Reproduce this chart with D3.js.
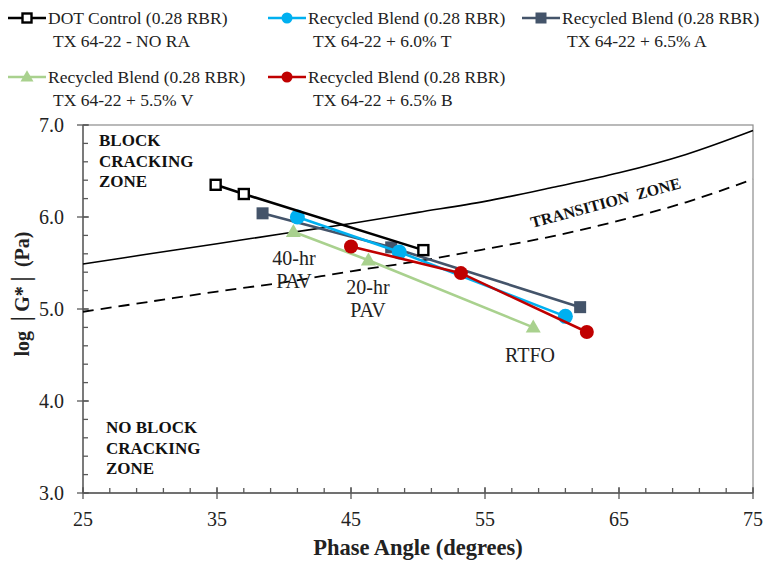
<!DOCTYPE html>
<html><head><meta charset="utf-8">
<script src="https://cdn.jsdelivr.net/npm/d3@7"></script>
<style>body{margin:0;background:#fff}svg{display:block}</style>
</head><body>
<svg id="chart" width="766" height="561"></svg>
<script>
// ---- data ----
const seriesNames = ["DOT Control (0.28 RBR)", "Recycled Blend (0.28 RBR)", "Recycled Blend (0.28 RBR)", "Recycled Blend (0.28 RBR)", "Recycled Blend (0.28 RBR)"];
const seriesSub = ["TX 64-22 - NO RA", "TX 64-22 + 6.0% T", "TX 64-22 + 6.5% A", "TX 64-22 + 5.5% V", "TX 64-22 + 6.5% B"];
const dotX = [34.9, 37.0, 50.4];   const dotY = [6.35, 6.25, 5.64];
const tX   = [41.0, 48.6, 61.0];   const tY   = [6.00, 5.62, 4.92];
const aX   = [38.4, 48.0, 62.1];   const aY   = [6.04, 5.67, 5.02];
const vX   = [40.7, 46.3, 58.6];   const vY   = [5.84, 5.53, 4.80];
const bX   = [45.0, 53.2, 62.6];   const bY   = [5.68, 5.39, 4.75];
// limit curves
const curveX      = [25, 30, 35, 40, 45, 50, 55, 60, 65, 70, 75];
const blockY      = [5.49, 5.60, 5.71, 5.82, 5.93, 6.05, 6.17, 6.32, 6.48, 6.68, 6.94];
const transitionY = [4.97, 5.08, 5.19, 5.29, 5.41, 5.52, 5.65, 5.79, 5.96, 6.16, 6.41];
const xTicks = [25, 35, 45, 55, 65, 75];
const yTicks = [3.0, 4.0, 5.0, 6.0, 7.0];

const svg = d3.select("#chart");
const L = 83, R = 753, T = 125, B = 493;
const x = d3.scaleLinear().domain([25, 75]).range([L, R]);
const y = d3.scaleLinear().domain([3, 7]).range([B, T]);
const serif = "Liberation Serif";

function txt(g, xx, yy, s, size, weight, anchor) {
  return g.append("text").attr("x", xx).attr("y", yy).text(s)
    .style("font-family", serif).style("font-size", size + "px").style("font-weight", weight || "normal")
    .attr("text-anchor", anchor || "start").attr("fill", "#222");
}

// frame
svg.append("rect").attr("x", L).attr("y", T).attr("width", R - L).attr("height", B - T)
  .attr("fill", "none").attr("stroke", "#8c8c8c").attr("stroke-width", 1.2);

// axes
const minorX = d3.range(25, 75.01, 2);
const minorY = d3.range(3, 7.01, 0.2);
const axG = svg.append("g").attr("stroke", "#595959").attr("stroke-width", 1.3);
axG.append("line").attr("x1", L).attr("x2", R).attr("y1", B).attr("y2", B);
axG.append("line").attr("x1", L).attr("x2", L).attr("y1", T).attr("y2", B);
minorX.forEach(v => axG.append("line").attr("x1", x(v)).attr("x2", x(v)).attr("y1", B).attr("y2", B - 5));
xTicks.forEach(v => axG.append("line").attr("x1", x(v)).attr("x2", x(v)).attr("y1", B - 6).attr("y2", B + 6));
minorY.forEach(v => axG.append("line").attr("x1", L).attr("x2", L + 5).attr("y1", y(v)).attr("y2", y(v)));
yTicks.forEach(v => axG.append("line").attr("x1", L - 6).attr("x2", L + 6).attr("y1", y(v)).attr("y2", y(v)));

xTicks.forEach(v => txt(svg, x(v), B + 33, String(v), 20, "normal", "middle"));
yTicks.forEach(v => txt(svg, L - 19, y(v) + 7, v.toFixed(1), 20, "normal", "end"));

txt(svg, (L + R) / 2, 555, "Phase Angle (degrees)", 22.5, "bold", "middle");
svg.append("g").attr("transform", "translate(29,294) rotate(-90)").call(g =>
  txt(g, 0, 0, "log │G*│ (Pa)", 20, "bold", "middle").attr("xml:space", "preserve"));

// limit curves
const cline = d3.line().x(d => x(d[0])).y(d => y(d[1])).curve(d3.curveCatmullRom);
svg.append("path").attr("d", cline(d3.zip(curveX, blockY))).attr("fill", "none")
  .attr("stroke", "#000").attr("stroke-width", 1.6);
svg.append("path").attr("d", cline(d3.zip(curveX, transitionY))).attr("fill", "none")
  .attr("stroke", "#000").attr("stroke-width", 1.8).attr("stroke-dasharray", "11,7");

// zone labels
["BLOCK", "CRACKING", "ZONE"].forEach((t, i) => txt(svg, 99, 146 + i * 20.5, t, 17, "bold").attr("fill", "#111"));
["NO BLOCK", "CRACKING", "ZONE"].forEach((t, i) => txt(svg, 106, 433 + i * 20.5, t, 17, "bold").attr("fill", "#111"));
svg.append("g").attr("transform", "translate(607,208) rotate(-15)").call(g =>
  txt(g, 0, 0, "TRANSITION  ZONE", 16, "bold", "middle").attr("fill", "#111").attr("xml:space", "preserve"));

[["40-hr", 294, 265], ["PAV", 294, 288], ["20-hr", 368, 294], ["PAV", 368, 317], ["RTFO", 530, 362]]
  .forEach(d => txt(svg, d[1], d[2], d[0], 20, "normal", "middle"));

// series
const series = [
  {xs: aX, ys: aY, color: "#44546A", shape: "square", fill: "#44546A", size: 12},
  {xs: tX, ys: tY, color: "#00B0F0", shape: "circle", fill: "#00B0F0", size: 15},
  {xs: vX, ys: vY, color: "#A9D18E", shape: "triangle", fill: "#A9D18E", size: 15},
  {xs: bX, ys: bY, color: "#C00000", shape: "circle", fill: "#C00000", size: 14},
  {xs: dotX, ys: dotY, color: "#000000", shape: "hsquare", fill: "#fff", size: 12}
];
const ln = d3.line().x(d => x(d[0])).y(d => y(d[1]));
function marker(g, shape, cx, cy, color, fill, s) {
  if (shape === "circle") g.append("circle").attr("cx", cx).attr("cy", cy).attr("r", s / 2).attr("fill", fill);
  else if (shape === "square") g.append("rect").attr("x", cx - s / 2).attr("y", cy - s / 2).attr("width", s).attr("height", s).attr("fill", fill);
  else if (shape === "hsquare") g.append("rect").attr("x", cx - s / 2 + 1).attr("y", cy - s / 2 + 1).attr("width", s - 2).attr("height", s - 2).attr("fill", fill).attr("stroke", color).attr("stroke-width", 2.4);
  else if (shape === "triangle") {
    const h = s * 0.87;
    g.append("path").attr("d", `M${cx},${cy - h * 0.6}L${cx + s / 2},${cy + h * 0.4}L${cx - s / 2},${cy + h * 0.4}Z`).attr("fill", fill);
  }
}
series.forEach(sr => {
  const g = svg.append("g");
  g.append("path").attr("d", ln(d3.zip(sr.xs, sr.ys))).attr("fill", "none").attr("stroke", sr.color).attr("stroke-width", 2.6);
  sr.xs.forEach((v, i) => marker(g, sr.shape, x(v), y(sr.ys[i]), sr.color, sr.fill, sr.size));
});

// legend
const legendColors = ["#000000", "#00B0F0", "#44546A", "#A9D18E", "#C00000"];
const legendShapes = ["hsquare", "circle", "square", "triangle", "circle"];
const legendPos = [[8, 18], [268, 18], [522, 18], [8, 77], [268, 77]];
legendPos.forEach((p, i) => {
  const g = svg.append("g");
  g.append("line").attr("x1", p[0]).attr("x2", p[0] + 38).attr("y1", p[1]).attr("y2", p[1])
    .attr("stroke", legendColors[i]).attr("stroke-width", 2.6);
  marker(g, legendShapes[i], p[0] + 19, p[1], legendColors[i], i === 0 ? "#fff" : legendColors[i], i === 3 ? 13 : 11);
  txt(g, p[0] + 40, p[1] + 6, seriesNames[i], 17.5);
  txt(g, p[0] + 45, p[1] + 29, seriesSub[i], 17.5);
});
</script>
</body></html>
